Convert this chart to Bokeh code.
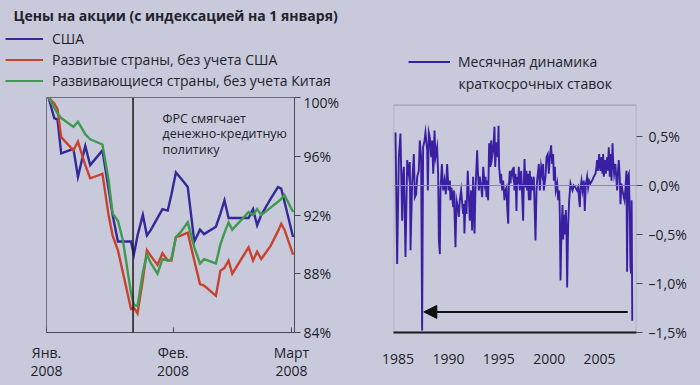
from bokeh.plotting import figure
from bokeh.layouts import row, column
from bokeh.models import (Range1d, FixedTicker, Span, Label, Legend, LegendItem,
                          Arrow, NormalHead, BoxAnnotation)
from bokeh.embed import file_html
from bokeh.resources import INLINE

# ---------------- left panel: stock prices, indexed to 1 January ----------------
days = [0.5, 1.9, 2.7, 3.6, 6.6, 7.7, 9.5, 10.7, 13.7, 15.2, 16.2, 17.5, 18.7, 20.7,
        21.4, 22.3, 23.6, 24.6, 25.6, 27.2, 28.4, 29.7, 30.6, 31.7, 32.9, 34.6, 36.2,
        37.6, 38.6, 41.5, 42.6, 43.6, 44.6, 45.5, 49.5, 50.6, 51.6, 52.6, 54.9, 56.7,
        57.5, 58.3, 60.4]
usa = [100.0, 98.6, 98.5, 96.2, 96.5, 94.6, 96.7, 95.4, 96.4, 93.8, 92.0, 90.2, 90.2,
       90.2, 89.3, 90.6, 92.0, 90.6, 91.0, 91.8, 92.4, 92.3, 93.4, 94.9, 94.5, 93.9,
       90.2, 91.0, 90.7, 91.2, 92.1, 93.0, 91.8, 91.8, 91.8, 92.4, 91.3, 92.0, 93.1,
       93.9, 93.8, 92.9, 90.5]
developed_ex_us = [100.0, 99.6, 99.2, 97.3, 96.4, 97.0, 95.4, 94.5, 94.8, 92.0, 90.6,
                   89.6, 88.1, 85.6, 85.7, 85.3, 87.6, 89.6, 89.2, 88.6, 89.4, 88.9,
                   88.9, 90.5, 90.6, 90.8, 88.9, 87.3, 87.2, 86.5, 88.2, 88.4, 88.9,
                   88.0, 89.8, 88.9, 89.5, 89.0, 89.9, 90.9, 91.4, 91.0, 89.3]
emerging_ex_china = [100.0, 99.3, 98.9, 98.6, 98.0, 98.35, 97.5, 97.15, 96.8, 94.4,
                     92.1, 91.6, 90.3, 86.7, 85.9, 85.8, 88.1, 89.3, 88.7, 88.0, 89.0,
                     88.9, 89.0, 90.5, 90.85, 91.5, 89.8, 88.7, 89.0, 88.7, 90.0, 90.8,
                     91.5, 91.0, 92.2, 92.0, 92.4, 92.0, 92.5, 92.9, 93.1, 93.35, 92.2]
fed_easing_day = 21.2
month_ticks = [0, 31, 60]
month_labels = ["Янв.\n2008", "Фев.\n2008", "Март\n2008"]
price_ticks = [84, 88, 92, 96, 100]
price_labels = ["84%", "88%", "92%", "96%", "100%"]
left_title = "Цены на акции (с индексацией на 1 января)"
series_names = ["США", "Развитые страны, без учета США",
                "Развивающиеся страны, без учета Китая"]
fed_note = "ФРС смягчает\nденежно-кредитную\nполитику"

# ---------------- right panel: monthly change of short-term rates ----------------
rate_years = [
    1984.75, 1984.91, 1985.08, 1985.24, 1985.41, 1985.51, 1985.58, 1985.74, 1985.91, 1986.07,
    1986.17, 1986.24, 1986.40, 1986.57, 1986.67, 1986.80, 1986.90, 1987.06, 1987.16, 1987.29,
    1987.39, 1987.49, 1987.63, 1987.72, 1987.89, 1987.96, 1988.05, 1988.15, 1988.29, 1988.39,
    1988.49, 1988.62, 1988.72, 1988.88, 1988.98, 1989.05, 1989.15, 1989.21, 1989.35, 1989.48,
    1989.61, 1989.74, 1989.87, 1990.01, 1990.14, 1990.20, 1990.30, 1990.47, 1990.54, 1990.70,
    1990.80, 1990.93, 1991.03, 1991.13, 1991.26, 1991.46, 1991.53, 1991.59, 1991.69, 1991.79,
    1991.92, 1992.02, 1992.12, 1992.25, 1992.35, 1992.45, 1992.59, 1992.68, 1992.85, 1992.92,
    1993.02, 1993.11, 1993.25, 1993.35, 1993.45, 1993.58, 1993.68, 1993.78, 1993.84, 1993.94,
    1994.04, 1994.17, 1994.24, 1994.34, 1994.44, 1994.57, 1994.64, 1994.77, 1994.90, 1994.97,
    1995.03, 1995.17, 1995.23, 1995.33, 1995.43, 1995.56, 1995.66, 1995.76, 1995.83, 1995.93,
    1995.99, 1996.09, 1996.16, 1996.22, 1996.32, 1996.42, 1996.49, 1996.55, 1996.65, 1996.75,
    1996.82, 1996.92, 1996.98, 1997.08, 1997.22, 1997.31, 1997.41, 1997.48, 1997.55, 1997.65,
    1997.74, 1997.81, 1997.88, 1997.98, 1998.08, 1998.14, 1998.21, 1998.34, 1998.47, 1998.64,
    1998.74, 1998.80, 1998.97, 1999.07, 1999.20, 1999.30, 1999.40, 1999.46, 1999.63, 1999.73,
    1999.86, 1999.96, 2000.06, 2000.19, 2000.29, 2000.39, 2000.46, 2000.56, 2000.65, 2000.79,
    2000.89, 2000.99, 2001.05, 2001.12, 2001.22, 2001.32, 2001.38, 2001.45, 2001.55, 2001.65,
    2001.71, 2001.78, 2001.88, 2001.98, 2002.11, 2002.21, 2002.31, 2002.44, 2002.61, 2002.77,
    2002.87, 2002.97, 2003.04, 2003.10, 2003.20, 2003.30, 2003.43, 2003.53, 2003.63, 2003.70,
    2003.76, 2003.86, 2003.96, 2004.09, 2004.26, 2004.42, 2004.59, 2004.69, 2004.75, 2004.85,
    2004.95, 2005.02, 2005.09, 2005.18, 2005.28, 2005.35, 2005.42, 2005.52, 2005.61, 2005.75,
    2005.81, 2005.91, 2006.01, 2006.08, 2006.18, 2006.28, 2006.34, 2006.44, 2006.57, 2006.67,
    2006.74, 2006.81, 2006.90, 2007.00, 2007.07, 2007.17, 2007.27, 2007.40, 2007.47, 2007.57,
    2007.66, 2007.73, 2007.80, 2007.90, 2008.00, 2008.06, 2008.13, 2008.18, 2008.24]
rate_changes = [
    0.54, -0.80, 0.29, 0.53, -0.36, 0.12, 0.19, -0.73, 0.26, 0.12,
    0.24, -0.66, 0.02, 0.32, -0.12, -0.09, 0.09, 0.15, 0.46, 0.29,
    -1.48, 0.39, 0.46, 0.54, 0.36, -0.05, 0.54, 0.49, 0.29, 0.46,
    0.12, 0.56, 0.29, 0.39, 0.12, -0.56, -0.70, -0.05, 0.22, -0.05,
    0.05, -0.09, 0.22, -0.05, 0.05, -0.15, -0.02, -0.22, -0.05, -0.63,
    -0.15, -0.22, -0.32, -0.15, -0.05, -0.29, -0.19, -0.49, -0.15, -0.29,
    0.15, -0.09, -0.36, -0.05, -0.46, 0.09, -0.49, -0.05, 0.36, 0.15,
    -0.05, 0.09, -0.02, -0.12, 0.19, 0.02, 0.09, -0.12, 0.05, -0.15,
    0.43, 0.19, 0.46, 0.29, 0.36, 0.60, 0.19, 0.44, 0.29, 0.61,
    0.19, 0.02, 0.12, -0.05, 0.05, -0.15, -0.05, -0.02, -0.22, -0.39,
    -0.02, 0.15, 0.02, 0.12, 0.15, 0.09, 0.19, -0.05, 0.12, -0.26,
    0.09, 0.02, 0.19, -0.05, 0.15, -0.09, -0.36, 0.02, 0.27, -0.02,
    0.15, -0.05, 0.12, -0.15, 0.15, -0.15, 0.09, -0.05, 0.09, -0.56,
    -0.05, 0.05, 0.22, -0.05, 0.19, 0.12, 0.22, -0.05, 0.09, 0.29,
    0.32, 0.12, 0.29, 0.41, 0.22, 0.32, 0.05, 0.19, -0.05, 0.02,
    -0.15, -0.05, -0.29, -0.97, -0.45, -0.20, -0.55, -0.30, -0.50, -0.25,
    -0.45, -1.04, -0.40, -0.15, 0.02, -0.02, -0.05, 0.00, -0.02, -0.05,
    -0.02, -0.15, -0.22, -0.02, 0.05, -0.05, 0.05, -0.26, 0.02, 0.05,
    0.09, -0.02, 0.05, 0.02, 0.05, 0.09, 0.12, 0.19, 0.26, 0.15,
    0.32, 0.22, 0.15, 0.29, 0.12, 0.32, 0.09, 0.26, 0.12, 0.29,
    0.15, 0.39, 0.09, 0.32, 0.05, 0.43, 0.26, 0.12, 0.22, 0.05,
    -0.05, 0.12, 0.26, 0.09, -0.19, 0.02, -0.05, -0.12, -0.15, -0.02,
    0.15, -0.88, 0.09, 0.12, -0.32, -0.83, -0.90, -0.15, -1.38]
year_ticks = [1985, 1990, 1995, 2000, 2005]
year_labels = ["1985", "1990", "1995", "2000", "2005"]
rate_ticks = [0.5, 0.0, -0.5, -1.0, -1.5]
rate_labels = ["0,5%", "0,0%", "–0,5%", "–1,0%", "–1,5%"]
rate_top = 0.82
rate_name = "Месячная динамика"
rate_name_2 = "краткосрочных ставок"
arrow_from_year, arrow_to_year, arrow_level = 2007.79, 1987.56, -1.29

# ---------------- styling ----------------
BG = "#c8cadb"
TXT = "#22222c"
FRAME = "#6c6c7a"
FONT = "Open Sans"
FS = "14px"
C_US, C_DEV, C_EM, C_RATE = "#34299b", "#c8432e", "#3f9a4f", "#3a1fa3"
HDR_H = 92
TOP = 5
FH = 235
BOTTOM = 53


def style_axis(ax):
    ax.major_label_text_font = FONT
    ax.major_label_text_font_size = FS
    ax.major_label_text_color = TXT
    ax.minor_tick_line_color = None


# ---------- header with title and legends ----------
# the legend keys reuse the real series; the header ranges keep them out of view
hdr = figure(width=700, height=HDR_H, x_range=Range1d(0, 1), y_range=Range1d(0, 1),
             x_axis_type=None, y_axis_type=None, output_backend="svg",
             toolbar_location=None, min_border=0,
             background_fill_color=BG, border_fill_color=BG, outline_line_color=None)
hdr.grid.visible = False
k_us = hdr.line(days, usa, line_color=C_US, line_width=2.2)
k_dev = hdr.line(days, developed_ex_us, line_color=C_DEV, line_width=2.2)
k_em = hdr.line(days, emerging_ex_china, line_color=C_EM, line_width=2.2)
k_rate = hdr.line(rate_years, rate_changes, line_color=C_RATE, line_width=2.2)
leg_common = dict(orientation="vertical", border_line_color=None, background_fill_alpha=0,
                  glyph_height=21, label_height=21, spacing=0, padding=0, margin=0,
                  label_text_font=FONT, label_text_font_size=FS, label_text_color=TXT)
hdr.add_layout(Legend(items=[LegendItem(label=series_names[0], renderers=[k_us]),
                             LegendItem(label=series_names[1], renderers=[k_dev]),
                             LegendItem(label=series_names[2], renderers=[k_em])],
                      location=(5, 1.5), glyph_width=38, label_standoff=9, **leg_common))
hdr.add_layout(Legend(items=[LegendItem(label=rate_name, renderers=[k_rate])],
                      location=(408, 20.5), glyph_width=42, label_standoff=8,
                      **leg_common))
hdr.add_layout(Label(x=13, y=HDR_H - 15, x_units="screen", y_units="screen",
                     text=left_title, text_font=FONT, text_font_size=FS,
                     text_font_style="bold", text_color=TXT, text_baseline="middle"))
hdr.add_layout(Label(x=458, y=HDR_H - 83, x_units="screen", y_units="screen",
                     text=rate_name_2, text_font=FONT, text_font_size=FS,
                     text_color=TXT, text_baseline="middle"))

# ---------- left chart ----------
p1 = figure(frame_width=248, frame_height=FH,
            x_range=Range1d(0, 60.75), y_range=Range1d(84, 100),
            output_backend="svg", toolbar_location=None, y_axis_location="right",
            min_border_left=46, min_border_right=76, min_border_top=TOP,
            min_border_bottom=BOTTOM,
            background_fill_color=BG, border_fill_color=BG,
            outline_line_color=FRAME, outline_line_width=1)
p1.grid.visible = False
r_us = p1.line(days, usa, line_color=C_US, line_width=2.4, line_join="miter")
r_dev = p1.line(days, developed_ex_us, line_color=C_DEV, line_width=2.4, line_join="miter")
r_em = p1.line(days, emerging_ex_china, line_color=C_EM, line_width=2.4, line_join="miter")
p1.add_layout(Span(location=fed_easing_day, dimension="height", line_color="#1a1a1a",
                   line_width=1.5))
p1.add_layout(Label(x=116, y=223, x_units="screen", y_units="screen", text=fed_note,
                    text_font=FONT, text_font_size="12.5px", text_color=TXT,
                    text_baseline="top", text_line_height=0.92))

style_axis(p1.xaxis[0])
p1.xaxis.ticker = FixedTicker(ticks=month_ticks)
p1.xaxis.major_label_overrides = dict(zip(month_ticks, month_labels))
p1.xaxis.major_tick_in = 5
p1.xaxis.major_tick_out = 0
p1.xaxis.axis_line_color = "#4a4a55"
p1.xaxis.major_tick_line_color = "#4a4a55"
p1.xaxis.major_label_standoff = 10
p1.xaxis.major_label_text_line_height = 0.985

style_axis(p1.yaxis[0])
p1.yaxis.ticker = FixedTicker(ticks=price_ticks)
p1.yaxis.major_label_overrides = dict(zip(price_ticks, price_labels))
p1.yaxis.major_tick_in = 0
p1.yaxis.major_tick_out = 6
p1.yaxis.axis_line_color = "#4a4a55"
p1.yaxis.major_tick_line_color = "#4a4a55"
p1.yaxis.major_label_standoff = 3

# ---------- right chart ----------
p2 = figure(frame_width=243, frame_height=FH,
            x_range=Range1d(1984.55, 2008.66), y_range=Range1d(-1.5, rate_top + 0.078),
            output_backend="svg", toolbar_location=None, y_axis_location="right",
            min_border_left=23, min_border_right=64, min_border_top=TOP,
            min_border_bottom=BOTTOM,
            background_fill_color=BG, border_fill_color=BG, outline_line_color=None)
p2.grid.visible = False
p2.add_layout(BoxAnnotation(top=rate_top, fill_alpha=0, line_color=FRAME, line_width=1.6))
p2.add_layout(Span(location=0, dimension="width", line_color="#8a8a96", line_width=1))
r_rate = p2.line(rate_years, rate_changes, line_color=C_RATE, line_width=1.9,
                 line_join="miter")
p2.add_layout(Arrow(x_start=arrow_from_year, y_start=arrow_level,
                    x_end=arrow_to_year, y_end=arrow_level,
                    line_color="#111111", line_width=2,
                    end=NormalHead(size=13, fill_color="#111111", line_color="#111111")))

style_axis(p2.xaxis[0])
p2.xaxis.ticker = FixedTicker(ticks=year_ticks)
p2.xaxis.major_label_overrides = dict(zip(year_ticks, year_labels))
p2.xaxis.major_tick_line_color = None
p2.xaxis.axis_line_color = "#111111"
p2.xaxis.axis_line_width = 2
p2.xaxis.major_label_standoff = 15

style_axis(p2.yaxis[0])
p2.yaxis.ticker = FixedTicker(ticks=rate_ticks)
p2.yaxis.major_label_overrides = dict(zip(rate_ticks, rate_labels))
p2.yaxis.major_tick_in = 0
p2.yaxis.major_tick_out = 6
p2.yaxis.axis_line_color = None
p2.yaxis.major_tick_line_color = "#4a4a55"
p2.yaxis.major_label_standoff = 6

bottom_row = row(p1, p2, styles={"background-color": BG})
layout = column(hdr, bottom_row, styles={"background-color": BG})
html = file_html(layout, INLINE, title="chart")
html = html.replace("</head>",
                    "<style>html, body { background-color: %s; }</style></head>" % BG, 1)
open("out.html", "w").write(html)
